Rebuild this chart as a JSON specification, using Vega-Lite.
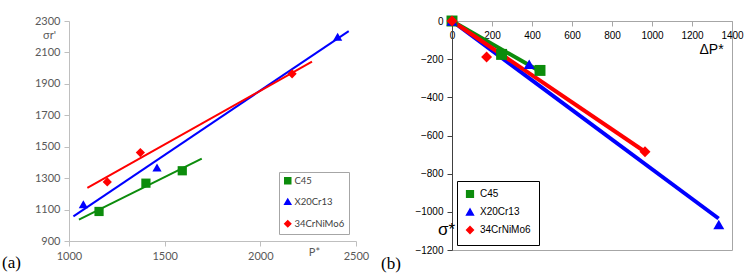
{
  "$schema": "https://vega.github.io/schema/vega-lite/v6.json",
  "usermeta": {"embedOptions": {"actions": false}},
  "background": "white",
  "padding": {"left": 2, "top": 12, "right": 4, "bottom": 2},
  "spacing": 11,
  "config": {
    "view": {"stroke": null},
    "font": "Liberation Sans",
    "axis": {"grid": false, "titleFontWeight": "normal", "labelFontWeight": "normal", "labelOverlap": false, "labelFlush": false, "format": "d"},
    "legend": {"title": null}
  },
  "resolve": {
    "scale": {"color": "independent", "shape": "independent"},
    "legend": {"color": "independent", "shape": "independent"}
  },
  "datasets": {
    "fitA": [
      {"steel": "C45", "p": 1052, "s": 1036},
      {"steel": "C45", "p": 1694, "s": 1424},
      {"steel": "X20Cr13", "p": 1023, "s": 1057},
      {"steel": "X20Cr13", "p": 2462, "s": 2236},
      {"steel": "34CrNiMo6", "p": 1096, "s": 1238},
      {"steel": "34CrNiMo6", "p": 2270, "s": 2041}
    ],
    "ptsA": [
      {"steel": "C45", "p": 1157, "s": 1088},
      {"steel": "C45", "p": 1402, "s": 1268},
      {"steel": "C45", "p": 1592, "s": 1347},
      {"steel": "X20Cr13", "p": 1075, "s": 1134},
      {"steel": "X20Cr13", "p": 1460, "s": 1367},
      {"steel": "X20Cr13", "p": 2404, "s": 2200},
      {"steel": "34CrNiMo6", "p": 1200, "s": 1276},
      {"steel": "34CrNiMo6", "p": 1373, "s": 1463},
      {"steel": "34CrNiMo6", "p": 2166, "s": 1964}
    ],
    "fitB": [
      {"steel": "C45", "dp": 0, "ds": 0},
      {"steel": "C45", "dp": 420, "ds": -252},
      {"steel": "X20Cr13", "dp": 0, "ds": 0},
      {"steel": "X20Cr13", "dp": 1333, "ds": -1035},
      {"steel": "34CrNiMo6", "dp": 0, "ds": 0},
      {"steel": "34CrNiMo6", "dp": 965, "ds": -685}
    ],
    "ptsB": [
      {"steel": "C45", "dp": 0, "ds": 0},
      {"steel": "C45", "dp": 248, "ds": -175},
      {"steel": "C45", "dp": 440, "ds": -259},
      {"steel": "X20Cr13", "dp": 0, "ds": 0},
      {"steel": "X20Cr13", "dp": 386, "ds": -227},
      {"steel": "X20Cr13", "dp": 1334, "ds": -1066},
      {"steel": "34CrNiMo6", "dp": 0, "ds": 0},
      {"steel": "34CrNiMo6", "dp": 173, "ds": -189},
      {"steel": "34CrNiMo6", "dp": 965, "ds": -685}
    ]
  },
  "hconcat": [
    {
      "width": 287,
      "height": 220,
      "title": {"text": "(a)", "orient": "bottom", "anchor": "start", "frame": "group", "dx": -67, "offset": -6, "font": "Liberation Serif", "fontSize": 17, "fontWeight": "normal", "color": "black"},
      "encoding": {
        "x": {"field": "p", "type": "quantitative",
          "scale": {"domain": [1000, 2500], "nice": false, "zero": false},
          "axis": {"values": [1000, 1500, 2000, 2500], "labelOverlap": false, "labelFlush": false, "labelFont": "Lato", "labelFontSize": 11, "labelColor": "#595959",
            "domainColor": "#bfbfbf", "tickColor": "#bfbfbf", "tickSize": 5, "labelPadding": 4,
            "title": "P*", "titleFont": "Lato", "titleFontSize": 11, "titleColor": "#595959",
            "titleX": 245, "titleY": 11, "titleBaseline": "middle", "titleAlign": "center"}},
        "y": {"field": "s", "type": "quantitative",
          "scale": {"domain": [900, 2300], "nice": false, "zero": false},
          "axis": {"values": [900, 1100, 1300, 1500, 1700, 1900, 2100, 2300], "labelOverlap": false, "labelFont": "Lato", "labelFontSize": 11, "labelColor": "#595959",
            "domainColor": "#bfbfbf", "tickColor": "#bfbfbf", "tickSize": 5, "labelPadding": 4,
            "title": "σr'", "titleFont": "Lato", "titleFontSize": 11, "titleColor": "#595959",
            "titleAngle": 0, "titleX": -20, "titleY": 14, "titleAlign": "center", "titleBaseline": "middle"}},
        "color": {"field": "steel", "type": "nominal",
          "scale": {"domain": ["C45", "X20Cr13", "34CrNiMo6"], "range": ["#0c8c0c", "#0000ff", "#ff0000"]},
          "legend": {"orient": "bottom-right", "offset": 7, "strokeColor": "#a6a6a6", "fillColor": "white", "padding": 4,
            "labelFont": "Lato", "labelFontSize": 9.5, "labelColor": "#404040", "symbolSize": 36, "rowPadding": 9, "labelOffset": 2}}
      },
      "layer": [
        {
          "data": {"name": "fitA"},
          "mark": {"type": "line", "strokeWidth": 2, "clip": false}
        },
        {
          "data": {"name": "ptsA"},
          "mark": {"type": "point", "filled": true, "opacity": 1, "size": 85},
          "encoding": {
            "shape": {"field": "steel", "type": "nominal",
              "scale": {"domain": ["C45", "X20Cr13", "34CrNiMo6"], "range": ["square", "triangle-up", "diamond"]}}
          }
        }
      ]
    },
    {
      "width": 280,
      "height": 229,
      "view": {"stroke": "#a6a6a6"},
      "title": {"text": "(b)", "orient": "bottom", "anchor": "start", "frame": "group", "dx": -71, "offset": 1, "font": "Liberation Serif", "fontSize": 17, "fontWeight": "normal", "color": "black"},
      "encoding": {
        "x": {"field": "dp", "type": "quantitative",
          "scale": {"domain": [0, 1400], "nice": false},
          "axis": {"orient": "bottom", "offset": -229, "values": [0, 200, 400, 600, 800, 1000, 1200, 1400], "labelOverlap": false, "labelFlush": false,
            "labelFontSize": 10, "labelColor": "black", "domainColor": "#a6a6a6", "tickColor": "#a6a6a6", "tickSize": 5, "labelPadding": 4,
            "title": "ΔP*", "titleFontSize": 14, "titleColor": "black",
            "titleX": 259, "titleY": 28, "titleBaseline": "middle", "titleAlign": "center"}},
        "y": {"field": "ds", "type": "quantitative",
          "scale": {"domain": [-1200, 0], "nice": false},
          "axis": {"values": [-1200, -1000, -800, -600, -400, -200, 0], "labelOverlap": false,
            "labelFontSize": 10, "labelColor": "black", "domainColor": "#404040", "tickColor": "#404040", "tickSize": 5, "labelPadding": 4,
            "title": "σ*", "titleFontSize": 17, "titleColor": "black",
            "titleAngle": 0, "titleX": -6, "titleY": 208, "titleAlign": "center", "titleBaseline": "middle"}},
        "color": {"field": "steel", "type": "nominal",
          "scale": {"domain": ["C45", "X20Cr13", "34CrNiMo6"], "range": ["#0c8c0c", "#0000ff", "#ff0000"]},
          "legend": {"orient": "bottom-left", "offset": 5, "strokeColor": "black", "fillColor": "white", "padding": 8,
            "labelFontSize": 10, "labelColor": "black", "symbolSize": 45, "rowPadding": 5, "labelOffset": 5}}
      },
      "layer": [
        {
          "data": {"name": "fitB"},
          "mark": {"type": "line", "strokeWidth": 4, "clip": false}
        },
        {
          "data": {"name": "ptsB"},
          "mark": {"type": "point", "filled": true, "opacity": 1, "size": 120},
          "encoding": {
            "shape": {"field": "steel", "type": "nominal",
              "scale": {"domain": ["C45", "X20Cr13", "34CrNiMo6"], "range": ["square", "triangle-up", "diamond"]}}
          }
        }
      ]
    }
  ]
}
